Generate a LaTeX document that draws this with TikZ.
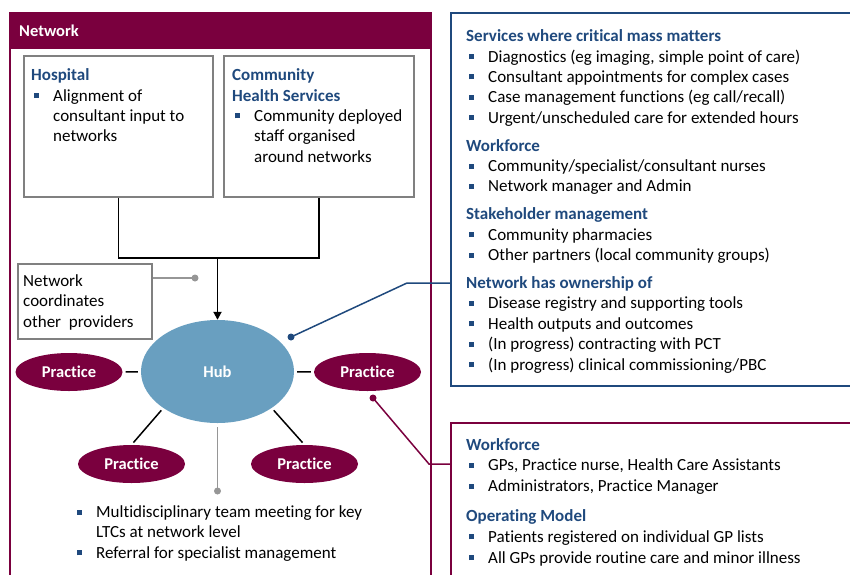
\documentclass[tikz,border=0pt]{standalone}
\usepackage{fontspec}
\setmainfont{Carlito}[Ligatures=NoCommon]
\usepackage{tikz}
\usetikzlibrary{shapes,arrows.meta}

\definecolor{netred}{RGB}{122,0,62}
\definecolor{hdblue}{RGB}{31,73,125}
\definecolor{hubblue}{RGB}{105,159,192}
\definecolor{boxgray}{RGB}{128,128,128}
\definecolor{dotgray}{RGB}{150,150,150}

\newcommand{\hd}[1]{{\color{hdblue}\bfseries #1}}
\newcommand{\bsq}{{\color{hdblue}\rule[3pt]{5pt}{5pt}}}
\newcommand{\itm}[1]{\hspace*{2.5pt}\makebox[19.5pt][l]{\bsq}#1}
\newcommand{\cnt}{\hspace*{22pt}}

\begin{document}
\begin{tikzpicture}[x=1pt,y=-1pt,font=\fontsize{17}{20.4}\selectfont]
\tikzstyle{every node} = [inner sep=0pt]
\tikzstyle{graybox} = [draw=boxgray,line width=1.8pt,rectangle,anchor=north west]
\tikzstyle{txt} = [align=left,anchor=north west]
\tikzstyle{practice} = [ellipse,fill=netred,minimum width=107pt,minimum height=38pt,text=white,font=\fontsize{16.5}{18}\selectfont\bfseries]
\tikzstyle{spoke} = [line width=1.5pt,shorten <=3pt,shorten >=3pt]

\useasboundingbox (0,0) rectangle (850,574);
\clip (0,0) rectangle (850,574);

% network frame
\node[draw=netred,line width=1.5pt,anchor=north west,minimum width=421pt,minimum height=620pt] (net) at (9,12) {};
\fill[netred] (net.north west) rectangle (430,49);
\node[anchor=base west,text=white,font=\fontsize{16.5}{18}\selectfont\bfseries] (nettitle) at (19,36.5) {Network};

\node[graybox,minimum width=189pt,minimum height=141pt] (hosp) at (23,55) {};
\node[txt] (hosptxt) at (31,68.5) {\hd{Hospital}\\
  \itm{Alignment of}\\
  \cnt consultant input to\\
  \cnt networks};

\node[graybox,minimum width=190pt,minimum height=141pt] (chs) at (223,55) {};
\node[txt] (chstxt) at (232,68.5) {\hd{Community}\\
  \hd{Health Services}\\
  \itm{Community deployed}\\
  \cnt staff organised\\
  \cnt around networks};

\node[graybox,minimum width=134pt,minimum height=75pt] (coord) at (17,263) {};
\node[txt] (coordtxt) at (23,274.5) {Network\\ coordinates\\ other\ \ providers};

\node[ellipse,fill=hubblue,minimum width=153pt,minimum height=103pt,text=white,font=\fontsize{16.5}{18}\selectfont\bfseries] (hub) at (217.5,371.5) {Hub};
\node[practice] (prL) at (69,372) {Practice};
\node[practice] (prR) at (367.5,372) {Practice};
\node[practice] (prBL) at (131.5,464) {Practice};
\node[practice] (prBR) at (304.5,464) {Practice};

% providers feed the hub
\coordinate (join) at (217.5,258);
\draw[line width=1.8pt] (hosp.south) |- (join) -| (chs.south);
\draw[line width=1.8pt,-{Triangle[length=8pt,width=8pt]}] (join) -- (hub.north);

\draw[spoke] (hub) -- (prL);
\draw[spoke] (hub) -- (prR);
\draw[spoke] (hub.south west) -- (prBL.north);
\draw[spoke] (hub.south east) -- (prBR.north);

% gray callouts
\coordinate (cdot) at (195,278);
\draw[dotgray,line width=1.5pt] (cdot -| coord.east) -- (cdot);
\fill[dotgray] (cdot) circle (3.5);
\coordinate (mdot) at (217.5,491);
\draw[dotgray,line width=1.8pt,shorten <=4pt] (hub.south) -- (mdot);
\fill[dotgray] (mdot) circle (3.5);

\node[txt] (mdt) at (74,505.5) {\itm{Multidisciplinary team meeting for key}\\
  \cnt LTCs at network level\\
  \itm{Referral for specialist management}};

% hub services
\node[draw=hdblue,line width=1.8pt,anchor=north west,minimum width=420pt,minimum height=373pt] (svcbox) at (450,12) {};
\node[txt] (svc) at (466,29.5) {\hd{Services where critical mass matters}\\
  \itm{Diagnostics (eg imaging, simple point of care)}\\
  \itm{Consultant appointments for complex cases}\\
  \itm{Case management functions (eg call/recall)}\\
  \itm{Urgent/unscheduled care for extended hours}\\[7.5pt]
  \hd{Workforce}\\
  \itm{Community/specialist/consultant nurses}\\
  \itm{Network manager and Admin}\\[7.5pt]
  \hd{Stakeholder management}\\
  \itm{Community pharmacies}\\
  \itm{Other partners (local community groups)}\\[7.5pt]
  \hd{Network has ownership of}\\
  \itm{Disease registry and supporting tools}\\
  \itm{Health outputs and outcomes}\\
  \itm{(In progress) contracting with PCT}\\
  \itm{(In progress) clinical commissioning/PBC}};

\coordinate (hdot) at (291,337);
\coordinate (hbend) at (407,283);
\draw[hdblue,line width=1.5pt] (hdot) -- (hbend) -- (hbend -| svcbox.west);
\fill[hdblue] (hdot) circle (3.5);

% practice
\node[draw=netred,line width=1.5pt,anchor=north west,minimum width=420pt,minimum height=200pt] (gpbox) at (450,422) {};
\node[txt,font=\fontsize{17}{20.8}\selectfont] (gp) at (466,438) {\hd{Workforce}\\
  \itm{GPs, Practice nurse, Health Care Assistants}\\
  \itm{Administrators, Practice Manager}\\[9pt]
  \hd{Operating Model}\\
  \itm{Patients registered on individual GP lists}\\
  \itm{All GPs provide routine care and minor illness}};

\coordinate (pdot) at (373,398);
\coordinate (pbend) at (429,464);
\draw[netred,line width=1.5pt] (pdot) -- (pbend) -- (pbend -| gpbox.west);
\fill[netred] (pdot) circle (3.5);

\end{tikzpicture}
\end{document}
